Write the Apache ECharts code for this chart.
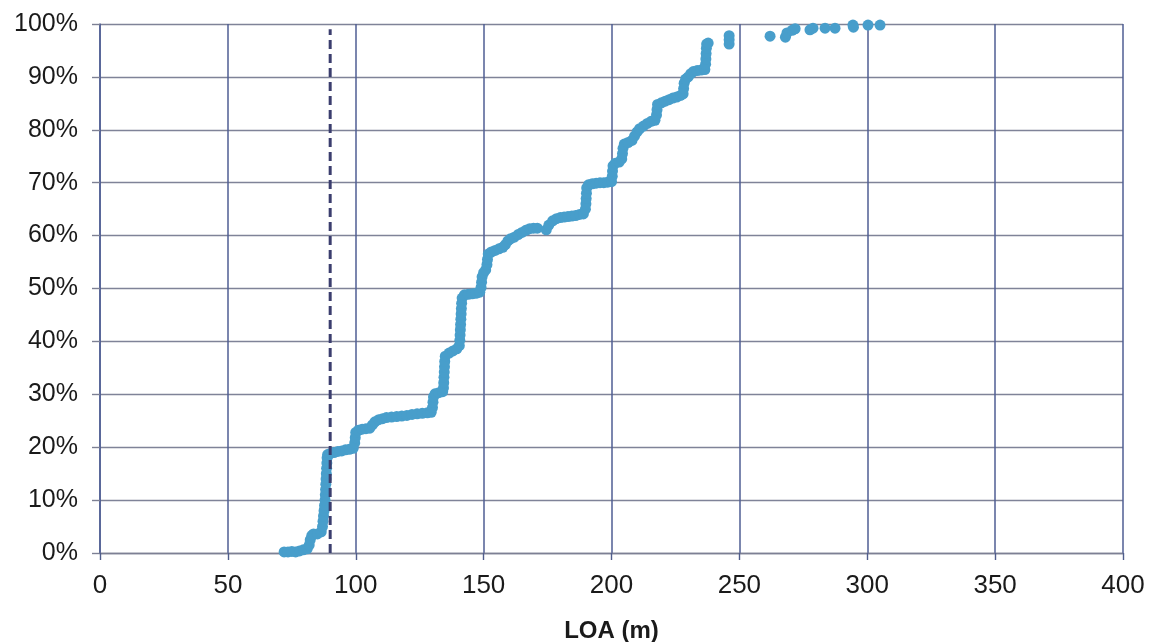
<!DOCTYPE html>
<html>
<head>
<meta charset="UTF-8">
<title>LOA</title>
<script src="https://cdn.jsdelivr.net/npm/echarts@6/dist/echarts.min.js"></script>
<style>
  html, body { margin: 0; padding: 0; background: #fff; }
  #main { width: 1149px; height: 642px; }
</style>
</head>
<body>
<div id="main"></div>
<script type="text/javascript">
// LOA (m) of each plotted point
var loaValues = [
  72, 73.5, 75, 76.5, 78, 79.5, 81,
  81.8, 82.2, 82.8, 83.5, 85, 86.5,
  87, 87.2, 87.4, 87.6, 87.8, 88, 88.1, 88.2, 88.3, 88.4, 88.5, 88.6, 88.7, 88.8, 89,
  90, 91.5, 93, 94.5, 96, 97.5, 99,
  99.6, 99.8, 100, 101, 102.5, 104, 105.5,
  106.5, 107.5, 109, 110.5, 112, 114, 116, 118, 120, 122, 124, 126, 128, 129.5,
  130, 130.2, 130.4, 131, 132.5, 134,
  134.3, 134.4, 134.5, 134.6, 134.7, 134.8, 135, 136.5, 138, 139.5, 140.5,
  140.7, 140.8, 140.9, 141, 141.1, 141.2, 141.3, 141.4, 141.6, 142.5, 144, 145.5, 147, 148.5,
  149, 149.2, 149.4, 150, 150.8,
  151.3, 151.5, 151.8, 153, 154.5, 156, 157.5, 158.5, 159.5, 160.5, 162, 163.5, 165, 166.5, 168, 169.5, 171,
  174.5, 175.5, 177, 178.5, 180, 181.5, 183, 184.5, 186, 187.5, 189,
  189.8, 190, 190.1, 190.2, 190.3, 191, 192.5, 194, 195.5, 197, 198.5, 200,
  200.3, 200.4, 200.6, 201.5, 203, 204, 204.3, 204.5, 205, 206.5, 208, 209, 210, 211, 212.5, 214, 215.5, 217,
  217.6, 217.8, 218, 219.5, 221, 222.5, 224, 225.5, 227, 228,
  228.2, 228.4, 229, 230, 231, 232, 233.5, 235, 236.5,
  236.8, 236.9, 237, 237.1, 237.2, 237.8,
  246, 246, 246,
  262, 268, 268.6, 270.6, 271.8, 277.6, 278.8, 283.5, 287.4, 294.4, 294.6, 300.3, 305
];
// cumulative share (%) of each point
var cumShare = [
  0.2, 0.2, 0.3, 0.2, 0.4, 0.6, 0.8,
  1.5, 2.5, 3.3, 3.6, 3.6, 4.0,
  5, 6, 7, 8, 9, 10, 11, 12, 13, 14, 15, 16, 17, 18, 18.6,
  18.8, 19, 19.2, 19.3, 19.5, 19.6, 19.8,
  20.8, 21.8, 22.8, 23.2, 23.4, 23.5, 23.6,
  24.2, 24.8, 25.2, 25.4, 25.6, 25.7, 25.8, 25.9, 26.0, 26.2, 26.3, 26.4, 26.5, 26.6,
  27.5, 28.5, 29.5, 30.1, 30.3, 30.5,
  31.2, 32.2, 33.2, 34.2, 35.2, 36.2, 37.2, 37.8, 38.2, 38.6, 39.2,
  40.2, 41.2, 42.2, 43.2, 44.2, 45.2, 46.2, 47.2, 48.2, 48.8, 48.9, 49, 49.1, 49.3,
  50.2, 51.2, 52.2, 53, 53.5,
  54.5, 55.5, 56.5, 56.9, 57.2, 57.5, 57.8, 58.3, 59, 59.4, 59.7, 60.2, 60.6, 61, 61.3, 61.4, 61.4,
  61.1, 62, 62.8, 63.2, 63.4, 63.5, 63.6, 63.7, 63.8, 64, 64.1,
  65, 66, 67, 68, 69, 69.6, 69.8, 69.9, 70, 70, 70.1, 70.2,
  71.2, 72.2, 73.2, 73.7, 73.9, 74.5, 75.5, 76.5, 77.3, 77.6, 78, 78.8, 79.6, 80.2, 80.7, 81.2, 81.6, 81.8,
  82.8, 83.8, 84.8, 85.1, 85.4, 85.7, 86, 86.2, 86.5, 86.8,
  87.8, 88.8, 89.6, 90, 90.6, 91, 91.2, 91.3, 91.4,
  92.4, 93.4, 94.4, 95.4, 96.2, 96.4,
  96.2, 97, 97.8,
  97.7, 97.5, 98.3, 98.8, 99.1, 98.9, 99.2, 99.2, 99.2, 99.8, 99.4, 99.8, 99.8
];
var xTicks = [0, 50, 100, 150, 200, 250, 300, 350, 400];
var yTicks = [0, 10, 20, 30, 40, 50, 60, 70, 80, 90, 100];
var limitLoa = 90;
var limitTop = 99;

var points = loaValues.map(function (v, i) { return [v, cumShare[i]]; });

var myChart = echarts.init(document.getElementById('main'));
var fontFam = "'Liberation Sans', Arial, sans-serif";

var option = {
  animation: false,
  backgroundColor: '#fff',
  grid: { left: 100, right: 26, top: 24, bottom: 89, containLabel: false, outerBoundsMode: 'none' },
  xAxis: {
    type: 'value',
    min: xTicks[0],
    max: xTicks[xTicks.length - 1],
    interval: 50,
    name: 'LOA (m)',
    nameLocation: 'middle',
    nameGap: 66,
    nameTextStyle: { fontFamily: fontFam, fontSize: 24, fontWeight: 'bold', color: '#1a1a1a' },
    axisLine: { show: true, onZero: false, lineStyle: { color: '#7d8094', width: 1.4 } },
    axisTick: { show: true, length: 7, lineStyle: { color: '#4f5d8c', width: 1.4 } },
    axisLabel: { margin: 20, fontFamily: fontFam, fontSize: 26, color: '#1a1a1a' },
    splitLine: { show: true, lineStyle: { color: '#4f5e93', width: 1.5 } }
  },
  yAxis: {
    type: 'value',
    min: yTicks[0],
    max: yTicks[yTicks.length - 1],
    interval: 10,
    axisLine: { show: true, onZero: false, lineStyle: { color: '#4f5e93', width: 1.5 } },
    axisTick: { show: true, length: 8, lineStyle: { color: '#7d8094', width: 1.4 } },
    axisLabel: { margin: 22, fontFamily: fontFam, fontSize: 25, color: '#1a1a1a', formatter: '{value}%' },
    splitLine: { show: true, lineStyle: { color: '#7f8398', width: 1.4 } }
  },
  series: [
    {
      type: 'scatter',
      data: points,
      symbol: 'circle',
      symbolSize: 11,
      itemStyle: { color: '#489ecb', opacity: 1 },
      z: 2
    },
    {
      type: 'line',
      data: [[limitLoa, 0], [limitLoa, limitTop]],
      symbol: 'none',
      lineStyle: { color: '#3b3e6e', width: 3, type: [9, 5] },
      z: 5
    }
  ]
};

myChart.setOption(option);
</script>
</body>
</html>
